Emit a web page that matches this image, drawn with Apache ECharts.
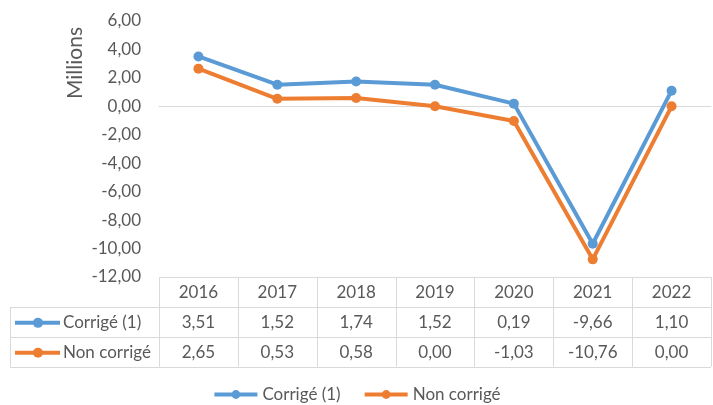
<!DOCTYPE html>
<html>
<head>
<meta charset="utf-8">
<script src="https://cdn.jsdelivr.net/npm/echarts@6/dist/echarts.min.js"></script>
<style>
html,body{margin:0;padding:0;background:#fff;}
#main{width:713px;height:405px;}
</style>
</head>
<body>
<div id="main"></div>
<script>
var years = ['2016','2017','2018','2019','2020','2021','2022'];
var corrige = [3.51, 1.52, 1.74, 1.52, 0.19, -9.66, 1.10];
var nonCorrige = [2.65, 0.53, 0.58, 0.00, -1.03, -10.76, 0.00];
var seriesNames = ['Corrigé (1)', 'Non corrigé'];
var colors = ['#5B9BD5', '#ED7D31'];
var txt = '#595959';
var gridCol = '#d9d9d9';
var font = 'Lato';

function fr(v){ return v.toFixed(2).replace('.', ','); }

var chart = echarts.init(document.getElementById('main'));
var option = {
    backgroundColor: '#fff',
    animation: false,
    textStyle: {fontFamily: font},
    grid: {left: 159, right: 2, top: 21, bottom: 128},
    xAxis: {
        type: 'category',
        data: years,
        boundaryGap: true,
        axisLine: {onZero: true, lineStyle: {color: gridCol, width: 1}},
        axisTick: {show: false},
        axisLabel: {show: false},
        splitLine: {show: false}
    },
    yAxis: {
        type: 'value',
        min: -12, max: 6, interval: 2,
        axisLine: {show: false},
        axisTick: {show: false},
        splitLine: {show: false},
        axisLabel: {
            color: txt, fontSize: 17, fontFamily: font, margin: 18,
            formatter: function(v){ return fr(v); }
        }
    },
    legend: {
        top: 381,
        left: 'center',
        itemWidth: 43,
        itemHeight: 11,
        itemGap: 22,
        lineStyle: {width: 4},
        textStyle: {color: txt, fontSize: 17, fontFamily: font},
        data: seriesNames
    },
    series: [
        {name: seriesNames[0], type: 'line', data: corrige, symbol: 'circle', symbolSize: 10,
         lineStyle: {width: 4, color: colors[0]}, itemStyle: {color: colors[0]}},
        {name: seriesNames[1], type: 'line', data: nonCorrige, symbol: 'circle', symbolSize: 10,
         lineStyle: {width: 4, color: colors[1]}, itemStyle: {color: colors[1]}}
    ]
};
chart.setOption(option);

// data table under the plot, columns taken from the category axis
var rowTop = 277, rowH = 29.9, tableLeft = 10;
var xs = years.map(function(y){ return chart.convertToPixel({xAxisIndex: 0}, y); });
var band = xs[1] - xs[0];
var leftEdge = xs[0] - band / 2, rightEdge = xs[xs.length - 1] + band / 2;
var g = [];
function line(x1, y1, x2, y2){
    g.push({type: 'line', silent: true, shape: {x1: x1, y1: y1, x2: x2, y2: y2},
        style: {stroke: gridCol, lineWidth: 1}});
}
function text(x, y, s, align){
    g.push({type: 'text', silent: true, x: x, y: y,
        style: {text: s, fill: txt, font: '17px ' + font, align: align || 'center', verticalAlign: 'middle'}});
}
// horizontal lines
line(leftEdge, rowTop + 0.5, rightEdge, rowTop + 0.5);
for (var r = 1; r <= 3; r++) {
    var yy = Math.round(rowTop + r * rowH) + 0.5;
    line(tableLeft, yy, rightEdge, yy);
}
// vertical lines
for (var i = 0; i <= years.length; i++) {
    var x = Math.min(Math.round(leftEdge + i * band), 711) + 0.5;
    line(x, rowTop, x, rowTop + 3 * rowH);
}
line(tableLeft + 0.5, rowTop + rowH, tableLeft + 0.5, rowTop + 3 * rowH);
// texts
years.forEach(function(y, i){ text(xs[i], rowTop + rowH / 2 + 1, y); });
var rows = [corrige, nonCorrige];
rows.forEach(function(arr, k){
    var cy = rowTop + rowH * (k + 1.5) + 1;
    arr.forEach(function(v, i){ text(xs[i], cy, fr(v)); });
    g.push({type: 'line', silent: true, shape: {x1: 15, y1: cy, x2: 60, y2: cy},
        style: {stroke: colors[k], lineWidth: 4}});
    g.push({type: 'circle', silent: true, shape: {cx: 38, cy: cy, r: 5}, style: {fill: colors[k]}});
    text(63, cy, seriesNames[k], 'left');
});
// axis title
g.push({type: 'text', silent: true, x: 75, y: 63, rotation: Math.PI / 2,
    style: {text: 'Millions', fill: txt, font: '21px ' + font, align: 'center', verticalAlign: 'middle'}});
chart.setOption({graphic: g});
</script>
</body>
</html>
